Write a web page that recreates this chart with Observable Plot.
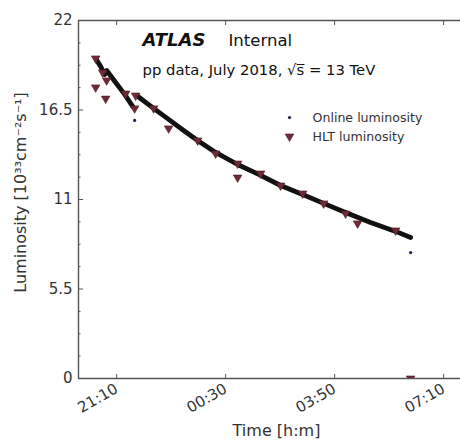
<!DOCTYPE html>
<html><head><meta charset="utf-8">
<script src="https://cdn.jsdelivr.net/npm/d3@7"></script>
<script src="https://cdn.jsdelivr.net/npm/@observablehq/plot@0.6"></script>
<style>html,body{margin:0;padding:0;background:#fff;overflow:hidden}</style>
</head><body><div id="chart"></div>
<script>
// Online luminosity, three continuous stretches (time h:m:s, lumi 1e33)
const onlineA_time = ["20:31:30","20:40:36","20:48:00"];
const onlineA_lumi = [19.67,19.18,18.68];
const onlineB_time = ["20:51:40","21:08:10","21:24:40","21:39:25"];
const onlineB_lumi = [18.93,18.19,17.46,16.72];
const onlineC_time = ["21:46:40","22:17:55","22:45:25","23:12:55","23:38:35","00:11:40","00:52:00","01:30:35","02:10:55","02:51:20","03:29:50","04:10:10","04:56:00","05:42:00","06:09:30"];
const onlineC_lumi = [17.39,16.60,15.92,15.24,14.63,13.89,13.15,12.54,11.86,11.31,10.76,10.20,9.59,9.04,8.67];
// isolated online points
const onlineLone_time = ["21:43:00","06:09:30"];
const onlineLone_lumi = [15.86,7.74];
// HLT luminosity
const hlt_time = ["20:31:30","20:31:30","20:44:20","20:51:40","20:49:50","21:26:30","21:44:55","21:43:00","22:17:55","22:45:25","23:38:35","00:11:40","00:52:00","00:52:00","01:34:10","02:10:55","02:51:20","03:29:50","04:10:10","04:32:10","05:42:00","06:09:30"];
const hlt_lumi = [19.67,17.89,18.81,18.32,17.20,17.51,17.39,16.60,16.60,15.37,14.63,13.83,13.21,12.35,12.60,11.86,11.37,10.76,10.14,9.53,9.10,0];

const xDomainLabels = ["20:00:00","07:41:00"];
const yDomain = [0,22];
const xTickLabels = ["21:10","00:30","03:50","07:10"];
const yMajor = [0,5.5,11,16.5,22];
const yTickLabels = ["0","5.5","11","16.5","22"];
const yMinor = [1.375,2.75,4.125,6.875,8.25,9.625,12.375,13.75,15.125,17.875,19.25,20.625];

const parseT = s => { const [h,m,sec] = s.split(":").map(Number); const day = h < 12 ? 11 : 10; return new Date(Date.UTC(2018,6,day,h,m,sec||0)); };
const xDomain = xDomainLabels.map(parseT);
const xTicks = xTickLabels.map(parseT);

const online = [
  ...onlineA_time.map((t,i)=>({t:parseT(t), v:onlineA_lumi[i], seg:"A"})),
  ...onlineB_time.map((t,i)=>({t:parseT(t), v:onlineB_lumi[i], seg:"B"})),
  ...onlineC_time.map((t,i)=>({t:parseT(t), v:onlineC_lumi[i], seg:"C"}))
];
const lone = onlineLone_time.map((t,i)=>({t:parseT(t), v:onlineLone_lumi[i]}));
const hlt = hlt_time.map((t,i)=>({t:parseT(t), v:hlt_lumi[i]}));

const axisColor = "#555";
const fmtX = d => xTickLabels[xTicks.findIndex(t => t.getTime() === d.getTime())];
const fmtY = d => yTickLabels[yMajor.indexOf(d)];

const chart = Plot.plot({
  width: 460, height: 440,
  marginLeft: 78, marginRight: 0, marginTop: 20, marginBottom: 62,
  style: {fontFamily: "DejaVu Sans", fontSize: "15px", color: "#333", background: "#fff"},
  x: {type: "utc", domain: xDomain},
  y: {domain: yDomain},
  marks: [
    Plot.ruleY([yDomain[0]], {stroke: axisColor, strokeWidth: 1.4}),
    Plot.ruleY([yDomain[1]], {stroke: axisColor, strokeWidth: 1.4}),
    Plot.ruleX([xDomain[0]], {stroke: axisColor, strokeWidth: 1.4}),
    Plot.axisY({ticks: yMajor, tickSize: -5, tickPadding: 11, tickFormat: fmtY, stroke: axisColor, label: null, fill: "#333"}),
    Plot.axisY({ticks: yMinor, tickSize: -2.5, tickFormat: () => "", stroke: axisColor, label: null}),
    Plot.axisX({anchor: "bottom", ticks: xTicks, tickSize: -4, tickPadding: 13, tickRotate: -30, tickFormat: fmtX, stroke: axisColor, label: null, fill: "#333"}),
    Plot.axisX({anchor: "top", ticks: xTicks, tickSize: -4, tickFormat: () => "", stroke: axisColor, label: null}),
    Plot.line(online, {x: "t", y: "v", z: "seg", stroke: "#111", strokeWidth: 4.8, strokeLinecap: "round", strokeLinejoin: "round"}),
    Plot.dot(lone, {x: "t", y: "v", r: 1.6, fill: "#1a2350"}),
    Plot.dot(hlt, {x: "t", y: "v", symbol: "triangle", rotate: 180, r: 3.2, fill: "#6e2a36", stroke: "#4a1c24", strokeWidth: 0.6, clip: true}),
    // annotations
    Plot.text(["ATLAS"], {frameAnchor: "top-left", dx: 64, dy: 25, lineAnchor: "bottom", textAnchor: "start", fontSize: 18, fontWeight: "bold", fontStyle: "italic", fill: "#111"}),
    Plot.text(["Internal"], {frameAnchor: "top-left", dx: 150, dy: 25, lineAnchor: "bottom", textAnchor: "start", fontSize: 16.5, fill: "#111"}),
    Plot.text(["pp data, July 2018, \u221As\u0305 = 13 TeV"], {frameAnchor: "top-left", dx: 64, dy: 54, lineAnchor: "bottom", textAnchor: "start", fontSize: 14.8, fill: "#111"}),
    // legend
    Plot.dot(["Online luminosity"], {frameAnchor: "top-right", dx: -171, dy: 97, r: 1.6, fill: "#1a2350"}),
    Plot.dot(["HLT luminosity"], {frameAnchor: "top-right", dx: -171, dy: 116, symbol: "triangle", rotate: 180, r: 3.2, fill: "#6e2a36", stroke: "#4a1c24", strokeWidth: 0.6}),
    Plot.text(["Online luminosity"], {frameAnchor: "top-right", dx: -148, dy: 97, textAnchor: "start", lineAnchor: "middle", fontSize: 12.6, fill: "#333"}),
    Plot.text(["HLT luminosity"], {frameAnchor: "top-right", dx: -148, dy: 116, textAnchor: "start", lineAnchor: "middle", fontSize: 12.6, fill: "#333"}),
    // axis titles
    Plot.text(["Luminosity [10\u00B3\u00B3cm\u207B\u00B2s\u207B\u00B9]"], {frameAnchor: "left", dx: -58, dy: -7, rotate: -90, textAnchor: "middle", lineAnchor: "middle", fontSize: 16, fill: "#333"}),
    Plot.text(["Time [h:m]"], {frameAnchor: "bottom", dx: 7, dy: 57, textAnchor: "middle", lineAnchor: "bottom", fontSize: 16, fill: "#333"})
  ]
});
document.getElementById("chart").appendChild(chart);
</script>
</body></html>
